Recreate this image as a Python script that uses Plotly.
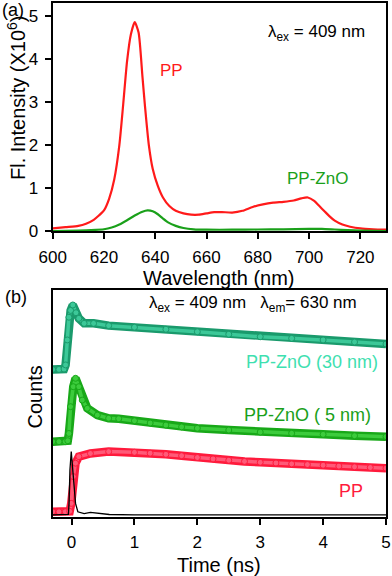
import plotly.graph_objects as go

# ---------------- Panel (a): steady-state fluorescence ----------------
wl_pp = [600, 605, 610, 613, 616, 618, 620, 622, 624, 626, 627.5, 629, 630.5, 632,
         633.5, 635, 636, 637.5, 639, 641, 643, 645.5, 648, 651, 654, 657, 660, 663,
         666, 670, 674, 678, 682, 686, 690, 694, 697, 699.5, 702, 704, 706, 708, 710,
         713, 716, 720, 725, 730]
int_pp = [0.06, 0.09, 0.12, 0.17, 0.26, 0.36, 0.48, 0.75, 1.2, 2.0, 2.95, 3.95, 4.58, 4.86,
          4.62, 3.6, 2.9, 2.0, 1.45, 1.05, 0.78, 0.58, 0.47, 0.41, 0.38, 0.38, 0.41, 0.44,
          0.44, 0.43, 0.47, 0.56, 0.62, 0.66, 0.68, 0.71, 0.76, 0.78, 0.70, 0.58, 0.46, 0.34,
          0.24, 0.15, 0.10, 0.06, 0.04, 0.03]

wl_znO = [600, 610, 615, 620, 623, 626, 629, 632, 635, 637, 639, 641, 643, 645, 648,
          651, 655, 660, 670, 680, 690, 700, 705, 710, 715, 720, 730]
int_znO = [0.0, 0.01, 0.02, 0.04, 0.08, 0.15, 0.25, 0.36, 0.45, 0.48, 0.46, 0.39, 0.29,
           0.20, 0.12, 0.07, 0.04, 0.03, 0.03, 0.035, 0.04, 0.05, 0.05, 0.035, 0.02, 0.01, 0.0]

wl_ticks = [600, 620, 640, 660, 680, 700, 720]
int_ticks = [0, 1, 2, 3, 4, 5]

# ---------------- Panel (b): time-resolved decays ----------------
t_irf = [-0.3, -0.1, -0.05, -0.04, -0.026, -0.005, 0.027, 0.063, 0.1, 0.2, 0.3, 0.4, 0.6, 1.0, 2.0, 3.0, 4.0, 5.0]
c_irf = [0.009, 0.009, 0.012, 0.06, 0.207, 0.288, 0.178, 0.06, 0.023, 0.015, 0.02, 0.018, 0.011, 0.009, 0.009, 0.009, 0.009, 0.009]

t_pp = [-0.3, -0.2, -0.1, -0.03, -0.005, 0.027, 0.063, 0.116, 0.3, 0.59, 1.0, 1.25, 1.5, 1.75,
        2.0, 2.25, 2.5, 2.75, 3.0, 3.25, 3.5, 3.75, 4.0, 4.25, 4.5, 4.75, 5.0]
c_pp = [0.023, 0.023, 0.023, 0.025, 0.06, 0.178, 0.237, 0.266, 0.28, 0.288, 0.285, 0.281, 0.276,
        0.27, 0.262, 0.256, 0.25, 0.245, 0.241, 0.238, 0.234, 0.231, 0.228, 0.224, 0.221, 0.218, 0.215]

t_5nm = [-0.3, -0.2, -0.1, -0.06, -0.042, -0.016, 0.027, 0.063, 0.116, 0.17, 0.25, 0.41, 0.59,
         0.75, 1.0, 1.25, 1.5, 1.75, 2.0, 2.5, 3.0, 3.5, 4.0, 4.5, 5.0]
c_5nm = [0.332, 0.332, 0.332, 0.336, 0.368, 0.486, 0.574, 0.611, 0.574, 0.515, 0.479, 0.449, 0.435,
         0.433, 0.424, 0.414, 0.405, 0.397, 0.391, 0.383, 0.374, 0.369, 0.364, 0.358, 0.354]

t_30nm = [-0.3, -0.2, -0.12, -0.095, -0.068, -0.042, -0.015, 0.02, 0.07, 0.116, 0.2, 0.35, 0.59,
          1.0, 1.5, 2.0, 2.5, 3.0, 3.5, 4.0, 4.5, 5.0]
c_30nm = [0.65, 0.65, 0.652, 0.67, 0.78, 0.88, 0.91, 0.934, 0.9, 0.875, 0.853, 0.853, 0.843,
          0.836, 0.827, 0.816, 0.805, 0.794, 0.787, 0.78, 0.771, 0.762]

time_ticks = [0, 1, 2, 3, 4, 5]

W, H = 392, 576
def px(x):
    return x / W
def py(y):
    return 1 - y / H

FONT = "Liberation Sans, Arial, sans-serif"

fig = go.Figure()

# Panel (a) traces
fig.add_trace(go.Scatter(x=wl_pp, y=int_pp, mode="lines", line=dict(color="#ff1a1a", width=2.2, shape="spline", smoothing=0.6),
                         xaxis="x", yaxis="y", showlegend=False))
fig.add_trace(go.Scatter(x=wl_znO, y=int_znO, mode="lines", line=dict(color="#1aa01a", width=2.2, shape="spline", smoothing=0.6),
                         xaxis="x", yaxis="y", showlegend=False))

# Panel (b) traces: band-like rendering (dark outline + lighter core)
def band(t, c, dark, light):
    fig.add_trace(go.Scatter(x=t, y=c, mode="lines", line=dict(color=dark, width=8.5),
                             xaxis="x2", yaxis="y2", showlegend=False))
    fig.add_trace(go.Scatter(x=t, y=c, mode="lines+markers", line=dict(color=light, width=3.5),
                             marker=dict(size=6, color=light, line=dict(color=dark, width=1)),
                             xaxis="x2", yaxis="y2", showlegend=False))

band(t_30nm, c_30nm, "#1a9a6c", "#3cc898")
band(t_5nm, c_5nm, "#18a818", "#3ccc3c")
band(t_pp, c_pp, "#ff1a3c", "#ff5a78")
fig.add_trace(go.Scatter(x=t_irf, y=c_irf, mode="lines", line=dict(color="black", width=1.3),
                         xaxis="x2", yaxis="y2", showlegend=False))

axis_common = dict(showline=True, linecolor="black", linewidth=2, mirror=True, automargin=False,
                   showgrid=False, zeroline=False, ticks="outside", tickcolor="black",
                   ticklen=6, tickwidth=2, tickfont=dict(family=FONT, size=17, color="black"))

fig.update_layout(
    width=W, height=H,
    margin=dict(l=0, r=0, t=0, b=0),
    paper_bgcolor="white", plot_bgcolor="white",
    xaxis=dict(domain=[px(52.7), px(386)], range=[600, 730], tickvals=wl_ticks,
               anchor="y", ticklabelstandoff=4, **axis_common),
    yaxis=dict(domain=[py(231), py(3.3)], range=[0, 5.3], tickvals=int_ticks,
               anchor="x", ticklabelstandoff=3, **axis_common),
    xaxis2=dict(domain=[px(52.7), px(386)], range=[-0.3, 5], tickvals=time_ticks,
                anchor="y2", ticklabelstandoff=3, **axis_common),
    yaxis2=dict(domain=[py(517), py(290)], range=[0, 1], anchor="x2", automargin=False,
                showline=True, linecolor="black", linewidth=2, mirror=True,
                showgrid=False, zeroline=False, showticklabels=False, ticks=""),
)

def ann(text, x, y, size=17, color="black", angle=0, xanchor="center"):
    fig.add_annotation(text=text, x=px(x), y=py(y), xref="paper", yref="paper",
                       showarrow=False, xanchor=xanchor, yanchor="middle", textangle=angle,
                       font=dict(family=FONT, size=size, color=color))

# Panel (a) text
ann("(a)", 12.5, 10, size=18)
ann("Fl. Intensity (X10<sup>6</sup>)", 17, 98, size=20, angle=-90)
ann("Wavelength (nm)", 219, 278, size=20)
ann("λ<sub>ex</sub> = 409 nm", 266, 33, size=17, xanchor="left")
ann("PP", 171.5, 71, size=17, color="#ff1a1a")
ann("PP-ZnO", 317.5, 179, size=17, color="#1aa01a")

# Panel (b) text
ann("(b)", 16, 297, size=18)
ann("Counts", 34.5, 397, size=20, angle=-90)
ann("Time (ns)", 219, 565, size=20)
ann("λ<sub>ex</sub> = 409 nm   λ<sub>em</sub>= 630 nm", 147, 304, size=17, xanchor="left")
ann("PP-ZnO (30 nm)", 311.5, 362, size=18, color="#3ee0b0")
ann("PP-ZnO ( 5 nm)", 307.5, 415, size=18, color="#1aa01a")
ann("PP", 351, 491, size=18, color="#ff1a3c")

fig.write_html("out.html", config={"displayModeBar": False},
               post_script="document.body.style.margin='0px';document.body.style.overflow='hidden';")
